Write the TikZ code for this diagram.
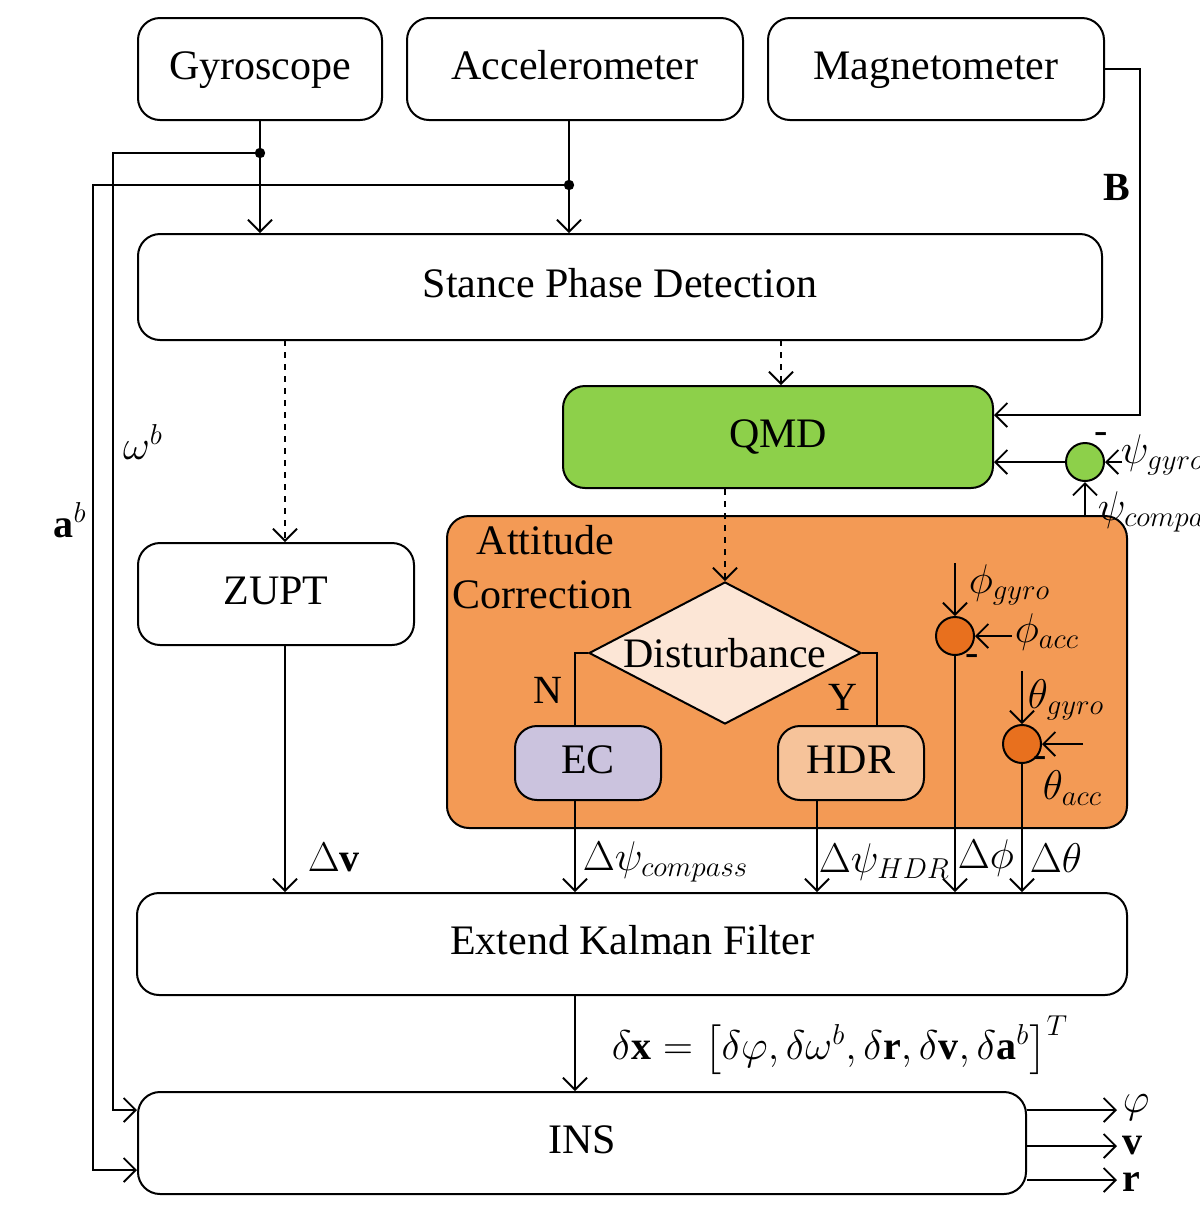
\documentclass[tikz,border=0pt]{standalone}
\usepackage{fontspec}
\setmainfont{Liberation Serif}
\usepackage{amsmath}
\usetikzlibrary{arrows.meta,shapes.geometric}

\definecolor{qmdgreen}{HTML}{8DD04A}
\definecolor{attorange}{HTML}{F39A55}
\definecolor{distbeige}{HTML}{FCE6D6}
\definecolor{eclav}{HTML}{CBC3DE}
\definecolor{hdrpeach}{HTML}{F6C39A}
\definecolor{sumorange}{HTML}{E8701E}

\begin{document}
\begin{tikzpicture}[x=0.5pt, y=-0.5pt, >={Straight Barb[length=6pt,width=12pt]},
    line width=0.9pt,
    box/.style={draw, rounded corners=11pt, line width=1pt, inner sep=0pt,
                text height=14pt, text depth=4pt,
                font=\fontsize{21}{25}\selectfont},
    sum/.style={draw, circle, line width=1pt, minimum size=19pt, inner sep=0pt},
    lbl/.style={font=\fontsize{20}{24}\selectfont, inner sep=1pt}]

    \useasboundingbox (0,0) rectangle (1200,1212);

    % Sensor boxes along the top.
    \node[box, minimum width=122pt, minimum height=51pt] (gyro)  at (260, 69)  {Gyroscope};
    \node[box, minimum width=168pt, minimum height=51pt] (accel) at (575, 69)  {Accelerometer};
    \node[box, minimum width=168pt, minimum height=51pt] (mag)   at (936, 69)  {Magnetometer};

    % Main processing blocks.
    \node[box, minimum width=482pt, minimum height=53pt] (stance) at (620, 287) {Stance Phase Detection};
    \node[box, fill=qmdgreen, minimum width=215pt, minimum height=51pt] (qmd) at (778, 437) {QMD};
    \node[box, fill=attorange, minimum width=340pt, minimum height=156pt] (att) at (787, 672) {};
    \node[box, minimum width=138pt, minimum height=51pt] (zupt) at (276, 594) {ZUPT};
    \node[box, minimum width=495pt, minimum height=51pt] (ekf)  at (632, 944) {Extend Kalman Filter};
    \node[box, minimum width=444pt, minimum height=51pt] (ins)  at (582, 1143) {INS};

    % Inside the attitude correction block.
    \node[lbl, font=\fontsize{21}{27}\selectfont, align=left, anchor=north west] (attlbl) at (450, 522)
        {\hspace*{12pt}Attitude\\Correction};
    \node[draw, diamond, fill=distbeige, line width=1pt, aspect=1.9, minimum width=136pt,
          minimum height=71pt, inner sep=0pt, font=\fontsize{21}{25}\selectfont] (dist) at (725, 653) {Disturbance};
    \node[box, fill=eclav, minimum width=73pt, minimum height=37pt]  (ec)  at (588, 763) {EC};
    \node[box, fill=hdrpeach, minimum width=73pt, minimum height=37pt] (hdr) at (851, 763) {HDR};

    % Summing junctions.
    \node[sum, fill=qmdgreen]   (sumpsi)   at (1085, 462) {};
    \node[sum, fill=sumorange]  (sumphi)   at (955, 636) {};
    \node[sum, fill=sumorange]  (sumtheta) at (1022, 744) {};

    % Free ends of the inputs and outputs.
    \coordinate (gdot) at (260, 153);
    \coordinate (adot) at (569, 185);
    \coordinate (psig) at (1122, 462);
    \coordinate (psic) at (1085, 517);
    \coordinate (phig) at (955, 563);
    \coordinate (phia) at (1012, 636);
    \coordinate (thg)  at (1022, 671);
    \coordinate (tha)  at (1083, 744);
    \coordinate (oph)  at (1117, 1110);
    \coordinate (ov)   at (1117, 1146);
    \coordinate (or)   at (1117, 1180);

    % Sensor signals.
    \draw[->] (gyro) -- (gyro |- stance.north);
    \draw[->] (accel.south -| 569, 0) -- (stance.north -| 569, 0);
    \fill (gdot) circle (2.6pt);
    \fill (adot) circle (2.6pt);
    \draw[->] (gdot) -- (113, 153) -- (113, 1110) -- (ins.west |- 0, 1110);
    \draw[->] (adot) -- (93, 185) -- (93, 1170) -- (ins.west |- 0, 1170);
    \draw[->] (mag.east) -- (1140, 69) -- (1140, 415) -- (qmd.east |- 0, 415);
    \node[lbl] (omega) at (143, 442) {$\omega^{b}$};
    \node[lbl] (acc)   at (70, 520)  {$\mathbf{a}^{b}$};
    \node[lbl] (bfield) at (1117, 187) {$\mathbf{B}$};

    % Dashed control signals.
    \draw[->, dashed] (285, 340) -- (zupt.north -| 285, 0);
    \draw[->, dashed] (781, 340) -- (qmd.north -| 781, 0);
    \draw[->, dashed] (qmd.south -| dist.north) -- (dist.north);

    % Heading junction.
    \draw[->] (sumpsi) -- (qmd.east |- sumpsi);
    \draw[->] (psig) -- (sumpsi);
    \draw[->] (psic) -- (sumpsi);
    \node[lbl, anchor=west] (psiglbl) at (1118, 455) {$\psi_{gyro}$};
    \node[lbl, anchor=west] (psiclbl) at (1095, 512) {$\psi_{compass}$};
    \node[lbl] (m1) at (1101, 438) {-};

    % Disturbance branches.
    \draw (dist.west) -- (575, 653) -- (ec.north -| 575, 0);
    \draw (dist.east) -- (877, 653) -- (hdr.north -| 877, 0);
    \node[lbl] (nlbl) at (548, 690) {N};
    \node[lbl] (ylbl) at (843, 697) {Y};

    % Roll and pitch junctions.
    \draw[->] (phig) -- (sumphi);
    \draw[->] (phia) -- (sumphi);
    \draw[->] (thg) -- (sumtheta);
    \draw[->] (tha) -- (sumtheta);
    \node[lbl, anchor=west] at (966, 585) {$\phi_{gyro}$};
    \node[lbl, anchor=west] at (1012, 632) {$\phi_{acc}$};
    \node[lbl] at (972, 660) {-};
    \node[lbl, anchor=west] at (1025, 700) {$\theta_{gyro}$};
    \node[lbl] at (1040, 762) {-};
    \node[lbl, anchor=west] at (1040, 788) {$\theta_{acc}$};

    % Corrections into the filter.
    \draw[->] (zupt.south -| 285, 0) -- (ekf.north -| 285, 0);
    \draw[->] (ec.south -| 575, 0) -- (ekf.north -| 575, 0);
    \draw[->] (hdr.south -| 817, 0) -- (ekf.north -| 817, 0);
    \draw[->] (sumphi) -- (sumphi |- ekf.north);
    \draw[->] (sumtheta) -- (sumtheta |- ekf.north);
    \node[lbl, anchor=west] at (305, 858) {$\Delta\mathbf{v}$};
    \node[lbl, anchor=west] at (580, 862) {$\Delta\psi_{compass}$};
    \node[lbl, anchor=west] at (816, 862) {$\Delta\psi_{HDR}$};
    \node[lbl, anchor=west] at (955, 858) {$\Delta\phi$};
    \node[lbl, anchor=west] at (1027, 858) {$\Delta\theta$};

    % Filter output and navigation states.
    \draw[->] (ekf.south -| 575, 0) -- (ins.north -| 575, 0);
    \node[lbl] at (840, 1045) {$\delta\mathbf{x}=\left[\delta\varphi,\delta\omega^{b},\delta\mathbf{r},\delta\mathbf{v},\delta\mathbf{a}^{b}\right]^{T}$};
    \draw[->] (ins.east |- oph) -- (oph);
    \draw[->] (ins.east |- ov) -- (ov);
    \draw[->] (ins.east |- or) -- (or);
    \node[lbl, anchor=west] at (1120, 1108) {$\varphi$};
    \node[lbl, anchor=west] at (1120, 1146) {$\mathbf{v}$};
    \node[lbl, anchor=west] at (1120, 1182) {$\mathbf{r}$};
\end{tikzpicture}
\end{document}
